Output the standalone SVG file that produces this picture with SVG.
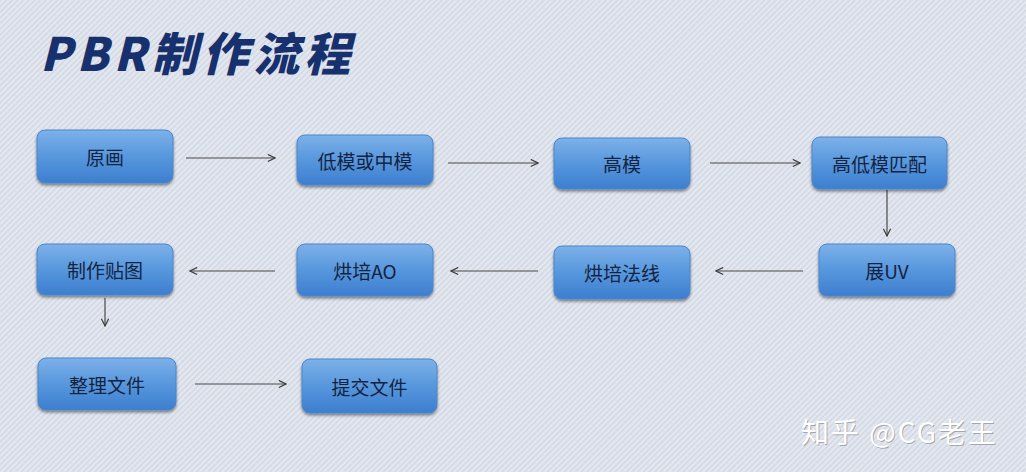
<svg xmlns="http://www.w3.org/2000/svg" width="1026" height="472" viewBox="0 0 1026 472">
<defs>
<pattern id="stripes" width="4" height="4" patternUnits="userSpaceOnUse" patternTransform="rotate(-45)">
<rect width="4" height="4" fill="#e3e7ef"/>
<rect width="4" height="1.3" fill="#cfd5e1"/>
</pattern>
<linearGradient id="nodeGrad" x1="0" y1="0" x2="0" y2="1">
<stop offset="0" stop-color="#7db1e8"/>
<stop offset="0.5" stop-color="#5797dd"/>
<stop offset="1" stop-color="#3d7ecf"/>
</linearGradient>
<filter id="shadow" x="-10%" y="-15%" width="120%" height="140%">
<feGaussianBlur in="SourceAlpha" stdDeviation="1.8"/>
<feOffset dx="0" dy="2" result="b"/>
<feComponentTransfer><feFuncA type="linear" slope="0.45"/></feComponentTransfer>
<feMerge><feMergeNode/><feMergeNode in="SourceGraphic"/></feMerge>
</filter>
<marker id="arrow" viewBox="0 0 10 10" refX="9" refY="5" markerWidth="9" markerHeight="9" markerUnits="userSpaceOnUse" orient="auto">
<path d="M1,1 L9,5 L1,9" fill="none" stroke="#3a3a3a" stroke-width="1.3"/>
</marker>
</defs>
<style>
.node rect{fill:url(#nodeGrad);stroke:#4a86cc;stroke-width:1;filter:url(#shadow)}
.node text{font-family:"Noto Sans CJK SC","Microsoft YaHei",sans-serif;font-size:19px;fill:#14233f;text-anchor:middle;dominant-baseline:central}
.conn line{stroke:#4a4a4a;stroke-width:1.2;marker-end:url(#arrow)}
.wm{font-family:"Noto Sans CJK SC",sans-serif;font-size:28px;letter-spacing:2px}
</style>
<rect width="1026" height="472" fill="url(#stripes)"/>
<text x="40" y="71" font-family="Noto Sans CJK SC, sans-serif" font-weight="900" font-size="46" fill="#17306e" font-style="italic" letter-spacing="5">PBR制作流程</text>
<g class="conn">
<line x1="186" y1="158" x2="275" y2="158"/>
<line x1="448" y1="163" x2="538" y2="163"/>
<line x1="710" y1="163" x2="800" y2="163"/>
<line x1="887" y1="190" x2="887" y2="236"/>
<line x1="803" y1="271" x2="716" y2="271"/>
<line x1="538" y1="271" x2="451" y2="271"/>
<line x1="275" y1="271" x2="190" y2="271"/>
<line x1="105" y1="298" x2="105" y2="326"/>
<line x1="195" y1="384" x2="286" y2="384"/>
</g>
<g id="n1" class="node"><rect x="37" y="130" width="136" height="53" rx="8"/><text x="105" y="156.5">原画</text></g>
<g id="n2" class="node"><rect x="297" y="135" width="136" height="50" rx="8"/><text x="365" y="160">低模或中模</text></g>
<g id="n3" class="node"><rect x="554" y="138" width="136" height="51" rx="8"/><text x="622" y="163.5">高模</text></g>
<g id="n4" class="node"><rect x="812" y="137" width="135" height="52" rx="8"/><text x="879.5" y="163">高低模匹配</text></g>
<g id="n5" class="node"><rect x="819" y="244" width="136" height="52" rx="8"/><text x="887" y="270">展UV</text></g>
<g id="n6" class="node"><rect x="554" y="246" width="136" height="53" rx="8"/><text x="622" y="272.5">烘培法线</text></g>
<g id="n7" class="node"><rect x="297" y="244" width="136" height="52" rx="8"/><text x="365" y="270">烘培AO</text></g>
<g id="n8" class="node"><rect x="37" y="244" width="136" height="51" rx="8"/><text x="105" y="269.5">制作贴图</text></g>
<g id="n9" class="node"><rect x="38" y="358" width="138" height="52" rx="8"/><text x="107" y="384">整理文件</text></g>
<g id="n10" class="node"><rect x="302" y="359" width="135" height="54" rx="8"/><text x="369.5" y="386">提交文件</text></g>
<text class="wm" x="801" y="443" fill="#8a909c" opacity="0.7" transform="translate(1,1)">知乎 @CG老王</text>
<text class="wm" x="801" y="443" fill="#ffffff">知乎 @CG老王</text>
</svg>
